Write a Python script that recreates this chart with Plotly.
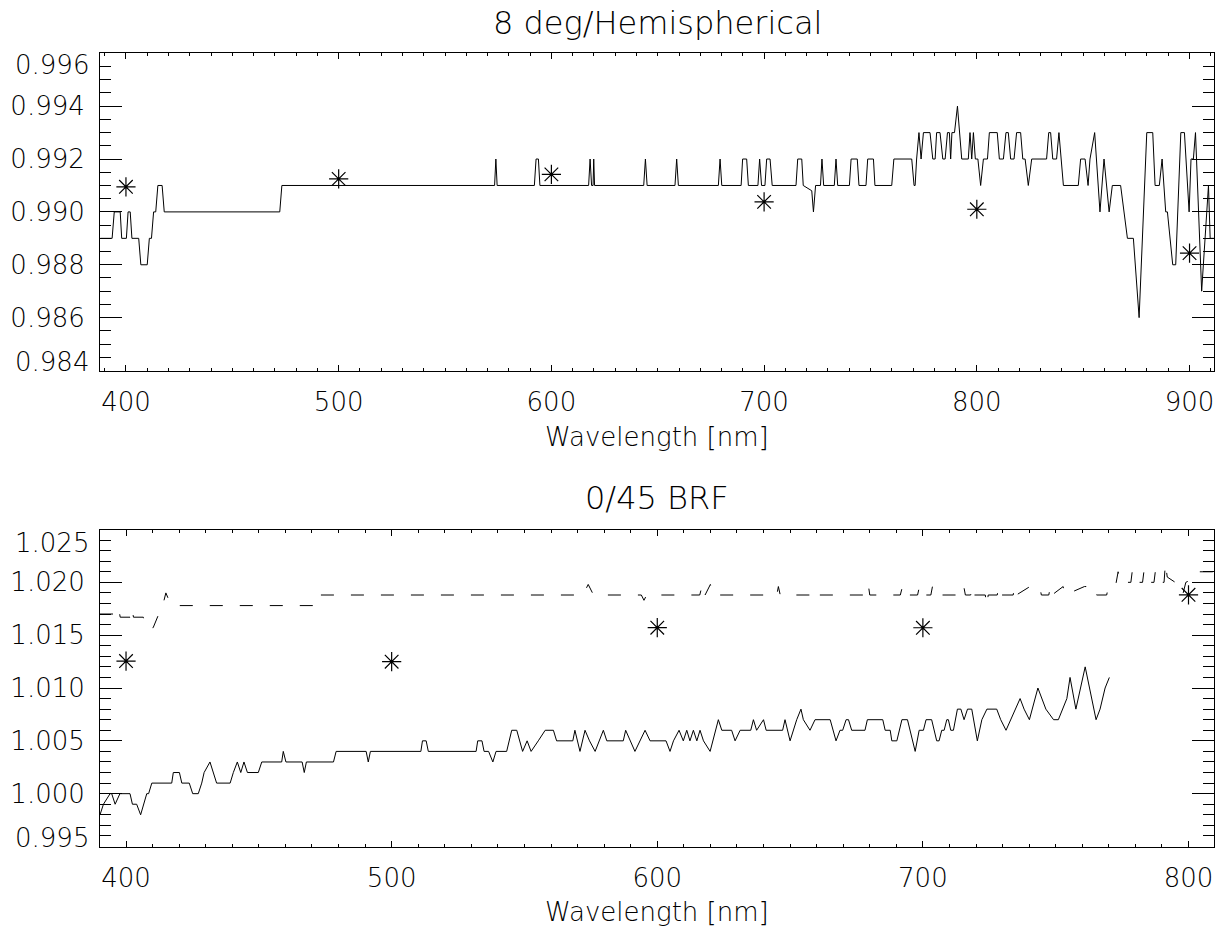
import plotly.graph_objects as go

# ---------------- data: 8 deg / hemispherical ----------------
hemi_wl = [388, 393.5, 394.5, 397.3, 398, 400.2, 401, 402, 402.8, 406, 407, 410, 411, 412,
           413, 414, 415, 417, 418, 472.3, 473.3, 573.3, 573.9, 574.5, 592, 592.8, 593.9,
           594.6, 617.5, 618.2, 618.9, 619.6, 619.9, 620.3, 643.4, 644.2, 645, 658.1, 658.9,
           659.7, 678.5, 679.3, 680.1, 689.2, 689.9, 691.8, 692.6, 697.1, 697.9, 698.8,
           700.4, 701.2, 702.8, 703.8, 715, 715.8, 717.7, 718.4, 722.4, 723.2, 724.2, 726.5,
           727.2, 728, 733, 733.8, 734.6, 740.1, 740.9, 743.8, 744.6, 747.9, 748.7, 751.4,
           752.1, 760, 761, 769.4, 770.5, 771, 771.7, 772.8, 773.8, 774.9, 778, 779.3, 780.4,
           781.1, 782.7, 784, 785.1, 786.2, 787.1, 787.7, 788.3, 789.5, 790.9, 792.9, 796,
           796.8, 797.6, 798.4, 799.3, 800.5, 801.8, 803.1, 805, 805.9, 809.6, 810.6, 812.5,
           813.7, 814.8, 815.9, 817.5, 818.7, 820.6, 821.6, 822.7, 824.2, 825.8, 832.8,
           833.8, 834.7, 835.7, 837.5, 838.6, 840.7, 847.7, 848.8, 850.9, 852.3, 853.2,
           855.4, 857.9, 859.8, 862.2, 863.7, 867.6, 869.2, 870.8, 873.6, 876.3, 879.9,
           882.7, 883.8, 885.8, 887.1, 888.8, 889.6, 892.1, 893.5, 895.9, 897.6, 899.8,
           900.7, 901.8, 902.8, 905.7, 908.9, 909.7, 911.5]
hemi_refl = [0.989, 0.989, 0.990, 0.990, 0.989, 0.989, 0.990, 0.990, 0.989, 0.989, 0.988,
             0.988, 0.989, 0.989, 0.990, 0.990, 0.991, 0.991, 0.990, 0.990, 0.991, 0.991,
             0.992, 0.991, 0.991, 0.992, 0.992, 0.991, 0.991, 0.992, 0.991, 0.991, 0.992,
             0.991, 0.991, 0.992, 0.991, 0.991, 0.992, 0.991, 0.991, 0.992, 0.991, 0.991,
             0.992, 0.992, 0.991, 0.991, 0.992, 0.991, 0.991, 0.992, 0.992, 0.991, 0.991,
             0.992, 0.992, 0.991, 0.9908, 0.990, 0.991, 0.991, 0.992, 0.991, 0.991, 0.992,
             0.991, 0.991, 0.992, 0.992, 0.991, 0.991, 0.992, 0.992, 0.991, 0.991, 0.992,
             0.992, 0.991, 0.991, 0.992, 0.993, 0.992, 0.993, 0.993, 0.992, 0.992, 0.993,
             0.993, 0.992, 0.992, 0.993, 0.993, 0.992, 0.993, 0.993, 0.994, 0.992, 0.992,
             0.993, 0.992, 0.993, 0.992, 0.992, 0.991, 0.992, 0.992, 0.993, 0.993, 0.992,
             0.992, 0.993, 0.993, 0.992, 0.992, 0.993, 0.993, 0.992, 0.992, 0.991, 0.992,
             0.992, 0.993, 0.993, 0.992, 0.992, 0.993, 0.991, 0.991, 0.992, 0.992, 0.991,
             0.992, 0.993, 0.990, 0.992, 0.990, 0.991, 0.991, 0.990, 0.989, 0.989, 0.986,
             0.993, 0.993, 0.991, 0.991, 0.992, 0.990, 0.990, 0.988, 0.988, 0.993, 0.993,
             0.990, 0.992, 0.992, 0.993, 0.987, 0.991, 0.989, 0.989]
hemi_ref_wl = [400, 500, 600, 700, 800, 900]
hemi_ref_val = [0.99095, 0.99125, 0.99142, 0.99038, 0.99010, 0.98844]

# ---------------- data: 0/45 BRF ----------------
brf_wl = [390.2, 391.5, 394, 394.6, 395.9, 397.7, 401.5, 402.4, 404, 405.5, 407.8, 408.5,
          409.7, 417.2, 417.8, 420.1, 421, 423.8, 425.1, 427.2, 428.5, 429.4, 431.6, 434.1,
          439.2, 440.4, 441.9, 443.2, 444.4, 445.7, 449.8, 451.1, 458.6, 459.2, 460.2,
          466.3, 467.1, 467.9, 478.1, 479.1, 490.4, 491.2, 492, 511, 511.6, 513, 513.8,
          531.8, 532.4, 534, 534.8, 536.5, 538.1, 539.3, 543.3, 545.2, 547.1, 549.3, 551,
          552.5, 555.2, 557.8, 560.9, 562.1, 568.2, 569, 570.9, 572.8, 574.5, 576.6, 579.7,
          581, 587.2, 588.1, 591.6, 593.5, 595.4, 597.3, 603.3, 604.8, 606.1, 608.2, 609.8,
          611.1, 612.3, 613.6, 614.9, 616.1, 617.4, 619.9, 623, 624.3, 628, 629.3, 631.2,
          635.2, 636.2, 637.4, 640, 641, 647.2, 648.1, 650, 652.5, 654.1, 655, 657.5,
          659.4, 665.1, 667.3, 668.8, 669.8, 671.1, 672, 673.2, 678.2, 679.1, 684.9, 685.8,
          687.7, 688.3, 690.2, 692.1, 694.2, 697.1, 698.6, 700.2, 701.2, 703.3, 705.2,
          706.1, 707.1, 708, 709, 709.6, 710.5, 711.5, 713, 714.3, 715.5, 716.8, 718.4,
          720.5, 722.2, 724.1, 727.8, 729.3, 731.3, 733.1, 734.7, 736.6, 738.1, 740.1,
          743.3, 746.3, 749.2, 751, 754.2, 755.4, 757.6, 761.1, 765.2, 766.7, 768.6, 770.2]
brf_refl = [0.998, 0.999, 1.000, 1.000, 0.999, 1.000, 1.000, 0.999, 0.999, 0.998, 1.000,
            1.000, 1.001, 1.001, 1.002, 1.002, 1.001, 1.001, 1.000, 1.000, 1.001, 1.002,
            1.003, 1.001, 1.001, 1.002, 1.003, 1.002, 1.003, 1.002, 1.002, 1.003, 1.003,
            1.004, 1.003, 1.003, 1.002, 1.003, 1.003, 1.004, 1.004, 1.003, 1.004, 1.004,
            1.005, 1.005, 1.004, 1.004, 1.005, 1.005, 1.004, 1.004, 1.003, 1.004, 1.004,
            1.006, 1.006, 1.004, 1.005, 1.004, 1.005, 1.006, 1.006, 1.005, 1.005, 1.006,
            1.004, 1.006, 1.005, 1.004, 1.006, 1.005, 1.005, 1.006, 1.004, 1.005, 1.006,
            1.005, 1.005, 1.004, 1.005, 1.006, 1.005, 1.006, 1.005, 1.006, 1.005, 1.006,
            1.005, 1.004, 1.007, 1.006, 1.006, 1.005, 1.006, 1.006, 1.007, 1.006, 1.007,
            1.006, 1.006, 1.007, 1.005, 1.007, 1.008, 1.007, 1.006, 1.007, 1.007, 1.005,
            1.006, 1.006, 1.007, 1.007, 1.006, 1.006, 1.007, 1.007, 1.006, 1.006, 1.005,
            1.005, 1.007, 1.007, 1.004, 1.006, 1.006, 1.007, 1.007, 1.005, 1.005, 1.006,
            1.006, 1.007, 1.007, 1.006, 1.006, 1.008, 1.008, 1.007, 1.008, 1.008, 1.005,
            1.007, 1.008, 1.008, 1.007, 1.006, 1.007, 1.008, 1.009, 1.008, 1.007, 1.010,
            1.008, 1.007, 1.007, 1.009, 1.011, 1.008, 1.012, 1.007, 1.008, 1.010, 1.011]
brf2_wl = [390.2, 396.5, 397.2, 397.8, 401.5, 402.2, 402.8, 406.5, 407.3, 410.2, 412, 414,
           415, 417, 472.3, 473, 572, 574, 576, 594, 595, 596, 616, 617, 618, 620, 621, 645,
           645.6, 646.3, 659, 660, 661, 679, 679.5, 680, 691.5, 692.3, 693, 698, 698.7, 699.4,
           703, 703.6, 704.3, 714.8, 715.4, 716, 718, 718.5, 719.2, 723.5, 724, 724.6, 728,
           728.5, 729.2, 734, 734.5, 735.2, 740.3, 744, 744.6, 747.4, 748, 748.6, 752.8,
           753.5, 760.8, 764.8, 765.4, 769.2, 769.8, 772.5, 773.5, 774.2, 778.3, 778.8,
           779.4, 782.7, 783.2, 783.8, 787, 787.5, 788.1, 790.8, 791.3, 792, 795, 797,
           798, 799, 801.5, 803, 809.6]
brf2_refl = [1.0170, 1.0170, 1.0176, 1.0167, 1.0167, 1.0176, 1.0167, 1.0167, 1.0157,
             1.0157, 1.0168, 1.0180, 1.0190, 1.0178, 1.0178, 1.0188, 1.0188, 1.0198, 1.0188,
             1.0188, 1.0183, 1.0188, 1.0188, 1.0198, 1.0188, 1.0198, 1.0188, 1.0188, 1.0196,
             1.0188, 1.0188, 1.0183, 1.0188, 1.0188, 1.0197, 1.0188, 1.0188, 1.0196, 1.0188,
             1.0188, 1.0196, 1.0188, 1.0188, 1.0196, 1.0188, 1.0188, 1.0196, 1.0188, 1.0188,
             1.0196, 1.0188, 1.0188, 1.0178, 1.0188, 1.0188, 1.0196, 1.0188, 1.0188, 1.0196,
             1.0188, 1.0196, 1.0196, 1.0188, 1.0188, 1.0196, 1.0188, 1.0196, 1.0188, 1.0196,
             1.0196, 1.0188, 1.0188, 1.0196, 1.0196, 1.0210, 1.0200, 1.0200, 1.0210, 1.0200,
             1.0200, 1.0210, 1.0200, 1.0200, 1.0210, 1.0200, 1.0200, 1.0218, 1.0205, 1.0200,
             1.0200, 1.0190, 1.0200, 1.0203, 1.0210, 1.0210]
brf_ref_wl = [400, 500, 600, 700, 800]
brf_ref_val = [1.01255, 1.01249, 1.01571, 1.01570, 1.01882]

FONT = "DejaVu Sans Light, DejaVu Sans, sans-serif"
W, H = 1217, 929

fig = go.Figure()

star = dict(symbol="asterisk-open", size=16, color="black", line=dict(color="black", width=1.2))

fig.add_trace(go.Scatter(x=hemi_wl, y=hemi_refl, mode="lines",
                         line=dict(color="black", width=1), xaxis="x", yaxis="y"))
fig.add_trace(go.Scatter(x=hemi_ref_wl, y=hemi_ref_val, mode="markers", marker=star,
                         xaxis="x", yaxis="y"))

fig.add_trace(go.Scatter(x=brf_wl, y=brf_refl, mode="lines",
                         line=dict(color="black", width=1), xaxis="x2", yaxis="y2"))
fig.add_trace(go.Scatter(x=brf2_wl, y=brf2_refl, mode="lines",
                         line=dict(color="black", width=1, dash="13px,17px"),
                         xaxis="x2", yaxis="y2"))
fig.add_trace(go.Scatter(x=brf_ref_wl, y=brf_ref_val, mode="markers", marker=star,
                         xaxis="x2", yaxis="y2"))

xdom = [100 / W, 1214 / W]
top_dom = [(H - 370.5) / H, (H - 53.3) / H]
bot_dom = [(H - 846.5) / H, (H - 529.5) / H]

tick_font = dict(family=FONT, size=26, color="black", weight=200)
common = dict(showline=True, linecolor="black", linewidth=1, mirror="ticks",
              ticks="inside", tickcolor="black", tickwidth=1, showgrid=False,
              zeroline=False, tickfont=tick_font)

hemi_ticks = [0.984, 0.986, 0.988, 0.990, 0.992, 0.994, 0.996]
brf_ticks = [0.995, 1.000, 1.005, 1.010, 1.015, 1.020, 1.025]


def inner_labels(vals):
    # end labels are drawn separately, nudged inside the frame
    return [""] + ["%.3f" % v for v in vals[1:-1]] + [""]


fig.update_layout(
    width=W, height=H, margin=dict(l=0, r=0, t=0, b=0),
    paper_bgcolor="white", plot_bgcolor="white", showlegend=False,
    xaxis=dict(domain=xdom, anchor="y", range=[387.8, 911.5], tickvals=[400, 500, 600, 700, 800, 900],
               ticklen=6, ticklabelstandoff=8, minor=dict(dtick=10, ticklen=3, ticks="inside",
                                                          tickcolor="black"), **common),
    yaxis=dict(domain=top_dom, anchor="x", range=[0.984, 0.996], tickvals=hemi_ticks,
               ticktext=inner_labels(hemi_ticks), ticklen=22, ticklabelstandoff=9,
               minor=dict(dtick=0.0005, ticklen=11, ticks="inside", tickcolor="black"), **common),
    xaxis2=dict(domain=xdom, anchor="y2", range=[390.2, 809.6], tickvals=[400, 500, 600, 700, 800],
                ticklen=6, ticklabelstandoff=8, minor=dict(dtick=10, ticklen=3, ticks="inside",
                                                           tickcolor="black"), **common),
    yaxis2=dict(domain=bot_dom, anchor="x2", range=[0.995, 1.025], tickvals=brf_ticks,
                ticktext=inner_labels(brf_ticks), ticklen=22, ticklabelstandoff=9,
                minor=dict(dtick=0.001, ticklen=11, ticks="inside", tickcolor="black"), **common),
)

xmid = (xdom[0] + xdom[1]) / 2
title_font = dict(family=FONT, size=32, color="black", weight=200)
label_font = dict(family=FONT, size=26, color="black", weight=200)
ann = [
    dict(text="8 deg/Hemispherical", x=xmid, y=(H - 23) / H, font=title_font),
    dict(text="Wavelength [nm]", x=xmid, y=(H - 437) / H, font=label_font),
    dict(text="0/45 BRF", x=xmid, y=(H - 498) / H, font=title_font),
    dict(text="Wavelength [nm]", x=xmid, y=(H - 912) / H, font=label_font),
]
for a in ann:
    fig.add_annotation(xref="paper", yref="paper", showarrow=False, xanchor="center",
                       yanchor="middle", **a)

# end tick labels, shifted inward like the original
end_labels = [("y", 0.99556, "0.996"), ("y", 0.98431, "0.984"),
              ("y2", 1.02369, "1.025"), ("y2", 0.99576, "0.995")]
for yr, yv, txt in end_labels:
    fig.add_annotation(xref="paper", yref=yr, x=xdom[0], y=yv, text=txt, showarrow=False,
                       xanchor="right", yanchor="middle", xshift=-9, font=label_font)

fig.write_html("out.html", config={"displayModeBar": False},
               post_script="document.body.style.margin='0px';")
